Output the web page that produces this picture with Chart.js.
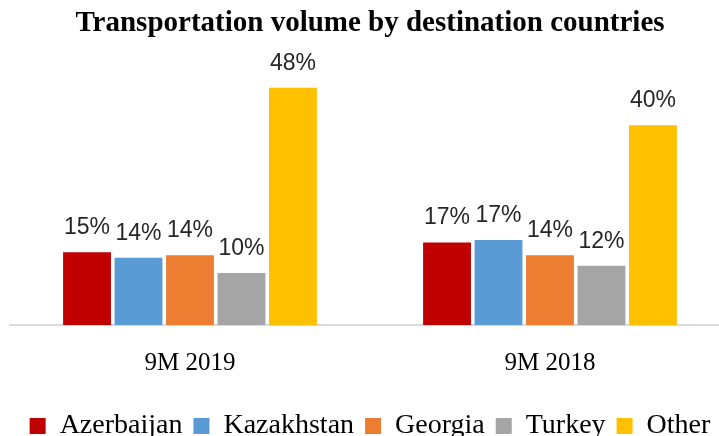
<!DOCTYPE html>
<html>
<head>
<meta charset="utf-8">
<script src="https://cdn.jsdelivr.net/npm/chart.js@4/dist/chart.umd.min.js"></script>
<style>
  html, body { margin: 0; padding: 0; background: #fff; overflow: hidden; }
  #wrap { width: 740px; height: 436px; position: relative; }
</style>
</head>
<body>
<div id="wrap"><canvas id="c"></canvas></div>
<script>
// ---- data ----
const categories = ["9M 2019", "9M 2018"];
const seriesNames = ["Azerbaijan", "Kazakhstan", "Georgia", "Turkey", "Other"];
const azerbaijan = [14.7, 16.7];
const kazakhstan = [13.6, 17.2];
const georgia    = [14.1, 14.1];
const turkey     = [10.5, 12.0];
const other      = [48.0, 40.4];
const azerbaijanLabels = ["15%", "17%"];
const kazakhstanLabels = ["14%", "17%"];
const georgiaLabels    = ["14%", "14%"];
const turkeyLabels     = ["10%", "12%"];
const otherLabels      = ["48%", "40%"];
const titleText = "Transportation volume by destination countries";

const seriesValues = [azerbaijan, kazakhstan, georgia, turkey, other];
const seriesLabels = [azerbaijanLabels, kazakhstanLabels, georgiaLabels, turkeyLabels, otherLabels];
const colors = ["#C00000", "#5B9BD5", "#ED7D31", "#A5A5A5", "#FFC000"];

const valueLabelPlugin = {
  id: "valueLabels",
  afterDatasetsDraw(chart) {
    const ctx = chart.ctx;
    ctx.save();
    ctx.font = "23px 'Liberation Sans', Arial, sans-serif";
    ctx.fillStyle = "#262626";
    ctx.textAlign = "center";
    ctx.textBaseline = "alphabetic";
    chart.data.datasets.forEach((ds, di) => {
      const meta = chart.getDatasetMeta(di);
      meta.data.forEach((bar, i) => {
        ctx.fillText(ds.valueLabels[i], bar.x, bar.y - 18);
      });
    });
    ctx.restore();
  }
};

new Chart(document.getElementById("c"), {
  type: "bar",
  data: {
    labels: categories,
    datasets: seriesNames.map((name, i) => ({
      label: name,
      data: seriesValues[i],
      valueLabels: seriesLabels[i],
      backgroundColor: colors[i],
      borderWidth: 0,
      categoryPercentage: 0.715,
      barPercentage: 0.93
    }))
  },
  options: {
    responsive: true,
    maintainAspectRatio: false,
    animation: false,
    layout: { padding: { left: 10, right: 10, top: 0, bottom: -14 } },
    plugins: {
      title: {
        display: true,
        text: titleText,
        color: "#000",
        font: { family: "'Liberation Serif', 'DejaVu Serif', serif", size: 29, weight: "bold" },
        padding: { top: 6, bottom: 37 }
      },
      legend: {
        display: true,
        position: "bottom",
        labels: {
          color: "#000",
          boxWidth: 16,
          boxHeight: 16,
          padding: 11,
          font: { family: "'Liberation Serif', 'DejaVu Serif', serif", size: 28 }
        }
      },
      tooltip: { enabled: false }
    },
    scales: {
      x: {
        grid: { display: false, drawTicks: false },
        border: { display: true, color: "#d9d9d9", width: 2 },
        ticks: {
          color: "#000",
          padding: 23,
          font: { family: "'Liberation Serif', 'DejaVu Serif', serif", size: 25 }
        }
      },
      y: {
        display: false,
        min: 0,
        max: 50
      }
    }
  },
  plugins: [valueLabelPlugin]
});
</script>
</body>
</html>
